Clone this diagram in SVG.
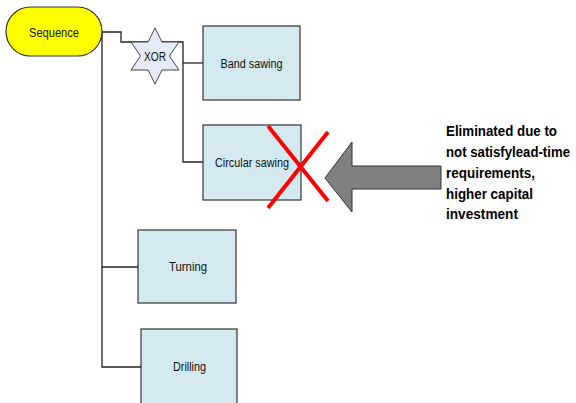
<svg xmlns="http://www.w3.org/2000/svg" width="576" height="403" viewBox="0 0 576 403">
<style>
.box{fill:#d4eaf0;stroke:#333;stroke-width:1.2}
.lbl{font-family:"Liberation Sans",Arial,sans-serif;font-size:12.5px;fill:#111;text-anchor:middle}
.conn{fill:none;stroke:#222;stroke-width:1.3}
.note{font-family:"Liberation Sans",Arial,sans-serif;font-size:13.2px;font-weight:bold;fill:#000}
</style>
<rect width="576" height="403" fill="#fff"/>
<g id="connectors">
<path class="conn" d="M102,32 H121 V42 H183 V162 H203"/>
<path class="conn" d="M183,63 H203"/>
<path class="conn" d="M102,32 V367 H141"/>
<path class="conn" d="M102,267 H138"/>
</g>
<g id="sequence">
<rect x="6" y="7" width="96" height="49" rx="24.5" ry="24.5" fill="#ffff00" stroke="#333" stroke-width="1.2"/>
<text class="lbl" x="54" y="36.5" textLength="50" lengthAdjust="spacingAndGlyphs">Sequence</text>
</g>
<g id="xor">
<polygon points="155,28 162,42 179,42 169.5,56 179,70 162,70 155,84 148,70 131,70 140.5,56 131,42 148,42" fill="#e6ecf7" stroke="#444" stroke-width="1"/>
<text class="lbl" x="155" y="60.5" textLength="22" lengthAdjust="spacingAndGlyphs">XOR</text>
</g>
<g id="band-sawing">
<rect class="box" x="203" y="26" width="97" height="74"/>
<text class="lbl" x="251.5" y="67.5" textLength="62" lengthAdjust="spacingAndGlyphs">Band sawing</text>
</g>
<g id="circular-sawing">
<rect class="box" x="203" y="125" width="98" height="75"/>
<text class="lbl" x="252" y="166.5" textLength="74" lengthAdjust="spacingAndGlyphs">Circular sawing</text>
</g>
<g id="turning">
<rect class="box" x="138" y="230" width="98" height="73"/>
<text class="lbl" x="188" y="271" textLength="38" lengthAdjust="spacingAndGlyphs">Turning</text>
</g>
<g id="drilling">
<rect class="box" x="141" y="329" width="96" height="80"/>
<text class="lbl" x="189.5" y="371" textLength="33" lengthAdjust="spacingAndGlyphs">Drilling</text>
</g>
<g id="cross">
<line x1="268" y1="126" x2="328" y2="201" stroke="#ff0000" stroke-width="4"/>
<line x1="328" y1="132" x2="268" y2="208" stroke="#ff0000" stroke-width="4"/>
</g>
<g id="arrow">
<polygon points="325,178 352,142 352,166 441,166 441,189 352,189 352,212" fill="#808080" stroke="#333" stroke-width="1"/>
</g>
<g id="note" transform="translate(446,136) scale(1,1.15)">
<text class="note" x="0" y="0" textLength="111" lengthAdjust="spacingAndGlyphs">Eliminated due to</text>
<text class="note" x="0" y="18.26" textLength="124" lengthAdjust="spacingAndGlyphs">not satisfylead-time</text>
<text class="note" x="0" y="36.52" textLength="89" lengthAdjust="spacingAndGlyphs">requirements,</text>
<text class="note" x="0" y="54.78" textLength="87" lengthAdjust="spacingAndGlyphs">higher capital</text>
<text class="note" x="0" y="72.17" textLength="72" lengthAdjust="spacingAndGlyphs">investment</text>
</g>
</svg>
